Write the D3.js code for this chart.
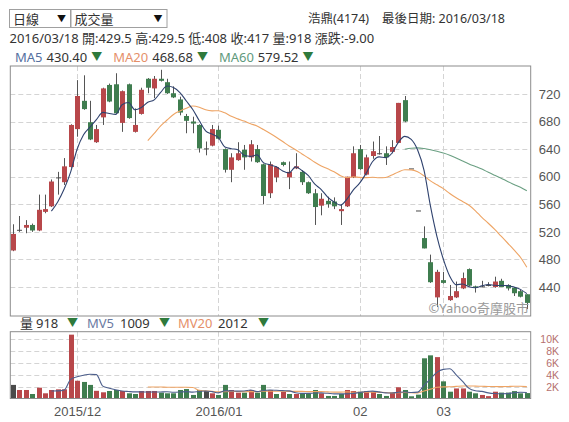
<!DOCTYPE html>
<html>
<head>
<meta charset="utf-8">
<script src="https://cdn.jsdelivr.net/npm/d3@7"></script>
<style>
  html, body { margin: 0; padding: 0; background: #fff; }
  svg { display: block; font-family: "Noto Sans", "Noto Sans CJK TC", sans-serif; }
</style>
</head>
<body>
<svg id="chart" width="569" height="422"></svg>
<script>
// 浩鼎 (4174) daily sessions, oldest first
const opens  = [493,523,526,530,522,549,557,599,592,614,669,710,679,650,686,733,734,678,734,665,
                691,742,728,742,737,721,712,688,680,675,641,645,668,640,610,624,639,628,640,618,
                576,599,621,599,612,607,592,576,558,565,564,550,557,599,640,603,630,634,634,636,
                649,711,612,551,511,476,425,450,421,425,438,466,441,441,443,440,449,443,439,434,429.5];
const highs  = [531,543,537,532,574,574,596,607,627,676,740,747,710,675,729,735,750,725,735,699,
                729,743,746,755,742,731,716,691,687,676,651,675,674,641,634,650,646,653,646,619,
                622,615,622,622,634,609,593,582,576,571,570,560,600,644,646,632,651,659,644,653,
                707,717,612,551,528,487,465,462,443,448,461,467,442,449,447,455,452,444,440,436,429.5];
const lows   = [492,520,518,520,521,547,556,574,588,613,658,697,653,649,675,708,691,665,684,664,
                690,721,714,738,720,714,689,663,663,635,631,644,654,606,592,623,610,622,620,560,
                569,592,615,582,611,588,575,530,544,555,553,530,556,598,610,602,626,632,617,634,
                649,679,612,551,496,446,411,445,420,424,437,441,432,440,441,439,440,435,427,425,408];
const closes = [517,523,530,522,552,553,593,599,615,675,717,698,654,669,728,709,692,724,685,675,
                726,729,742,739,721,715,693,681,677,641,641,669,655,610,628,634,628,647,621,572,
                618,614,617,607,615,592,576,556,568,560,557,553,600,634,611,628,637,634,628,643,
                707,680,612,551,496,447,462,446,427,434,453,442,439,441,443,448,440,438,431,426,417];
const volumes = [2300,1440,1440,760,1830,880,1440,1550,1550,10800,3000,2800,2300,1300,1050,1270,1440,1270,880,760,
                 1270,1270,1270,990,880,880,1440,1600,600,1440,1270,880,600,2300,1440,990,990,1440,990,2300,
                 1440,760,1150,760,760,880,760,1440,880,430,430,760,1440,1270,1150,1270,1150,760,430,990,
                 1900,1440,375,650,6800,7300,7000,2900,1150,1700,1700,1150,880,600,400,1150,1000,1000,1250,877,918];

// month boundaries on the session axis
const monthTickIndex  = [10, 32, 54, 67];
const monthTickLabels = ["2015/12", "2016/01", "02", "03"];

const priceTicks = [440, 480, 520, 560, 600, 640, 680, 720];
const volumeTicks = [2000, 4000, 6000, 8000, 10000];
const volumeTickLabels = ["2K", "4K", "6K", "8K", "10K"];

// ---------------------------------------------------------------
const svg = d3.select("#chart");

const RED = "#b8474a", GREEN = "#3f7d4f", FLAT = "#4a4a4a";
const GRID = "#d4d4d4", FRAME = "#8c8c8c", DOWN = "#2f7a3c";

const plotL = 10.3, plotR = 530.7;
const priceT = 66, priceB = 316;
const volT = 331.7, volB = 398.5;

const n = closes.length;
const x = d3.scaleLinear().domain([-0.4, n - 0.4]).range([plotL, plotR]);
const y = d3.scaleLinear().domain([398, 760.5]).range([priceB, priceT]);
const yv = d3.scaleLinear().domain([0, 11300]).range([volB, volT]);

const cx = i => Math.round(x(i));

// n-session moving average; plotted from session n+1 onward
function movingAverage(values, len) {
  return values.map((v, i) => i < len + 1 ? null : d3.mean(values.slice(i - len + 1, i + 1)));
}

// writes a row of [text, colour, size, gap] pieces left to right
function legendRow(g, x0, baseline, pieces) {
  let cur = x0;
  pieces.forEach(([txt, color, size, gap]) => {
    const t = g.append("text").attr("x", cur).attr("y", baseline).attr("fill", color).text(txt);
    if (size) t.attr("font-size", size).attr("dy", -1);
    cur += t.node().getComputedTextLength() + gap;
  });
}

// ---------------- header ----------------
const header = svg.append("g").attr("font-size", 13).attr("fill", "#333");

function dropdown(x0, w, label) {
  header.append("rect").attr("x", x0 + 0.5).attr("y", 9.5).attr("width", w).attr("height", 18)
    .attr("fill", "#fff").attr("stroke", "#a0a0a0");
  header.append("text").attr("x", x0 + 4).attr("y", 24).text(label);
  header.append("text").attr("x", x0 + w - 13).attr("y", 22).attr("font-size", 9).attr("fill", "#111").text("▼");
}
dropdown(9, 61, "日線");
dropdown(70.5, 96, "成交量");

header.append("text").attr("x", 308).attr("y", 23).attr("font-size", 12.5).text("浩鼎(4174)");
header.append("text").attr("x", 505).attr("y", 23).attr("font-size", 12.5).attr("text-anchor", "end")
  .text("最後日期: 2016/03/18");

header.append("text").attr("x", 9.5).attr("y", 43)
  .text("2016/03/18 開:429.5 高:429.5 低:408 收:417 量:918 漲跌:-9.00");

legendRow(header, 15, 62, [
  ["MA5", "#55709f", 0, 4], ["430.40", "#333", 0, 4], ["▼", DOWN, 11, 11],
  ["MA20", "#e5906a", 0, 4], ["468.68", "#333", 0, 4], ["▼", DOWN, 11, 11],
  ["MA60", "#5f9a7c", 0, 4], ["579.52", "#333", 0, 4], ["▼", DOWN, 11, 0]
]);

// ---------------- price panel ----------------
const price = svg.append("g");

price.selectAll("line.hgrid").data(priceTicks).join("line")
  .attr("x1", plotL).attr("x2", plotR)
  .attr("y1", d => Math.round(y(d)) + 0.5).attr("y2", d => Math.round(y(d)) + 0.5)
  .attr("stroke", GRID).attr("stroke-dasharray", "5,3");

price.selectAll("line.vgrid").data(monthTickIndex).join("line")
  .attr("x1", d => cx(d) + 0.5).attr("x2", d => cx(d) + 0.5)
  .attr("y1", priceT).attr("y2", priceB)
  .attr("stroke", GRID).attr("stroke-dasharray", "5,3");

const candleColor = i => closes[i] > opens[i] ? RED : closes[i] < opens[i] ? GREEN : FLAT;
const idx = d3.range(n);

price.selectAll("line.wick").data(idx).join("line")
  .attr("x1", i => cx(i) + 0.5).attr("x2", i => cx(i) + 0.5)
  .attr("y1", i => y(highs[i])).attr("y2", i => y(lows[i]))
  .attr("stroke", "#555").attr("stroke-width", 1);

price.selectAll("rect.body").data(idx).join("rect")
  .attr("x", i => cx(i) - 2).attr("width", 5)
  .attr("y", i => y(Math.max(opens[i], closes[i])))
  .attr("height", i => Math.max(1, Math.abs(y(opens[i]) - y(closes[i]))))
  .attr("fill", candleColor);

const maSpecs = [
  { len: 60, color: "#6a9f82" },
  { len: 20, color: "#eea464" },
  { len: 5,  color: "#2f426e" }
];
maSpecs.forEach(s => {
  const vals = movingAverage(closes, s.len);
  price.append("path").datum(vals.map((v, i) => [i, v]))
    .attr("fill", "none").attr("stroke", s.color).attr("stroke-width", 1.1)
    .attr("d", d3.line().defined(d => d[1] != null).x(d => x(d[0])).y(d => y(d[1])).curve(d3.curveMonotoneX));
});

price.append("text").attr("x", 529).attr("y", 313).attr("text-anchor", "end")
  .attr("font-size", 13).attr("fill", "#9a9a9a").text("©Yahoo奇摩股市");

price.append("rect").attr("x", plotL).attr("y", priceT).attr("width", plotR - plotL).attr("height", priceB - priceT)
  .attr("fill", "none").attr("stroke", FRAME);

const yAxis = price.append("g").attr("transform", `translate(${plotR},0)`)
  .call(d3.axisRight(y).tickValues(priceTicks).tickSize(0).tickPadding(8));
yAxis.select(".domain").remove();
yAxis.selectAll("text").attr("font-size", 13).attr("fill", "#555").attr("font-family", null);

// ---------------- volume panel ----------------
const vol = svg.append("g");

const volLegend = vol.append("g").attr("font-size", 13).attr("fill", "#333");
[
  { t: "量",   x: 20,  c: "#333" },
  { t: "918",  x: 36,  c: "#333" },
  { t: "▼",    x: 67,  c: DOWN, s: 11 },
  { t: "MV5",  x: 87,  c: "#6a7aa2" },
  { t: "1009", x: 120, c: "#333" },
  { t: "▼",    x: 159, c: DOWN, s: 11 },
  { t: "MV20", x: 178, c: "#e5906a" },
  { t: "2012", x: 218, c: "#333" },
  { t: "▼",    x: 258, c: DOWN, s: 11 }
].forEach(d => {
  const t = volLegend.append("text").attr("x", d.x).attr("y", 328).attr("fill", d.c).text(d.t);
  if (d.s) t.attr("font-size", d.s).attr("dy", -1);
});

vol.selectAll("line.hgrid").data(volumeTicks).join("line")
  .attr("x1", plotL).attr("x2", plotR)
  .attr("y1", d => Math.round(yv(d)) + 0.5).attr("y2", d => Math.round(yv(d)) + 0.5)
  .attr("stroke", GRID).attr("stroke-dasharray", "5,3");

vol.selectAll("line.vgrid").data(monthTickIndex).join("line")
  .attr("x1", d => cx(d) + 0.5).attr("x2", d => cx(d) + 0.5)
  .attr("y1", volT).attr("y2", volB)
  .attr("stroke", GRID).attr("stroke-dasharray", "5,3");

const volColor = i => i === 0 || closes[i] === closes[i - 1] ? FLAT
  : closes[i] > closes[i - 1] ? RED : GREEN;

vol.selectAll("rect.vbar").data(idx).join("rect")
  .attr("x", i => cx(i) - 2).attr("width", 5)
  .attr("y", i => yv(volumes[i])).attr("height", i => yv(0) - yv(volumes[i]))
  .attr("fill", volColor);

[{ len: 20, color: "#eea464" }, { len: 5, color: "#4d5f8c" }].forEach(s => {
  const vals = movingAverage(volumes, s.len);
  vol.append("path").datum(vals.map((v, i) => [i, v]))
    .attr("fill", "none").attr("stroke", s.color).attr("stroke-width", 1.1)
    .attr("d", d3.line().defined(d => d[1] != null).x(d => x(d[0])).y(d => yv(d[1])).curve(d3.curveMonotoneX));
});

vol.append("rect").attr("x", plotL).attr("y", volT).attr("width", plotR - plotL).attr("height", volB - volT)
  .attr("fill", "none").attr("stroke", FRAME);

const vAxis = vol.append("g").attr("transform", `translate(559,0)`)
  .call(d3.axisLeft(yv).tickValues(volumeTicks).tickFormat((d, i) => volumeTickLabels[i]).tickSize(0).tickPadding(0));
vAxis.select(".domain").remove();
vAxis.selectAll("text").attr("font-size", 10.5).attr("fill", "#b5706e").attr("font-family", "Liberation Sans, sans-serif");

const xAxis = vol.append("g").attr("transform", `translate(0,${volB})`)
  .call(d3.axisBottom(x).tickValues(monthTickIndex).tickFormat((d, i) => monthTickLabels[i]).tickSize(0).tickPadding(8));
xAxis.select(".domain").remove();
xAxis.selectAll("text").attr("font-size", 13).attr("fill", "#555").attr("font-family", null);
</script>
</body>
</html>
